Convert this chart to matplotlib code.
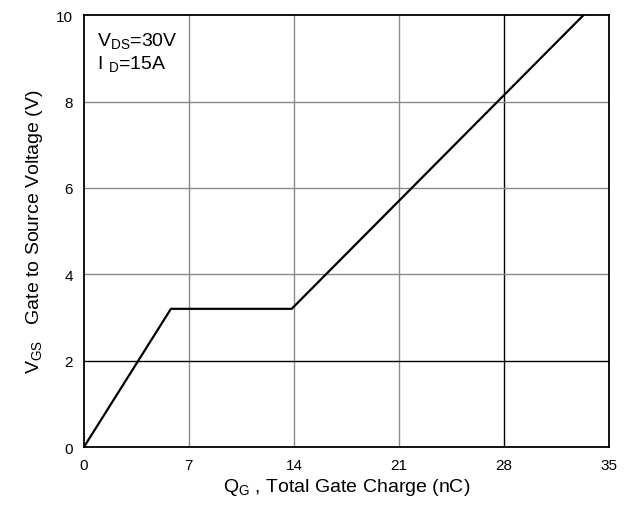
import matplotlib
matplotlib.use("Agg")
import matplotlib.pyplot as plt

plt.rcParams['font.family'] = ['Liberation Sans', 'DejaVu Sans']

# gate charge curve (nC, V)
qg = [0, 5.8, 13.85, 33.3]
vgs = [0, 3.2, 3.2, 10]

x_ticks = [0, 7, 14, 21, 28, 35]
y_ticks = [0, 2, 4, 6, 8, 10]

fig = plt.figure(figsize=(6.31, 5.06), dpi=100)
ax = fig.add_axes([0.133, 0.1146, 0.832, 0.8534])

for xv in x_ticks[1:-1]:
    ax.axvline(xv, color="black" if xv == 28 else "#8a8a8a", lw=1.0, zorder=1)
for yv in y_ticks[1:-1]:
    ax.axhline(yv, color="black" if yv == 2 else "#8a8a8a", lw=1.0, zorder=1)

ax.plot(qg, vgs, color="black", lw=1.6, zorder=3)

ax.set_xlim(0, 35)
ax.set_ylim(0, 10)
ax.set_xticks(x_ticks)
ax.set_yticks(y_ticks)
ax.tick_params(length=0, labelsize=11, pad=8)
for s in ax.spines.values():
    s.set_linewidth(1.3)

ax.set_xlabel(r"Q$_{\mathregular{G}}$ , Total Gate Charge (nC)", fontsize=14, labelpad=3)
ax.set_ylabel(r"V$_{\mathregular{GS}}$   Gate to Source Voltage (V)", fontsize=14, labelpad=8)

ax.text(0.025, 0.965, r"V$_{\mathregular{DS}}$=30V", transform=ax.transAxes,
        fontsize=14, va="top", ha="left")
ax.text(0.025, 0.91, r"I $_{\mathregular{D}}$=15A", transform=ax.transAxes,
        fontsize=14, va="top", ha="left")

fig.savefig("out.png", dpi=100)
